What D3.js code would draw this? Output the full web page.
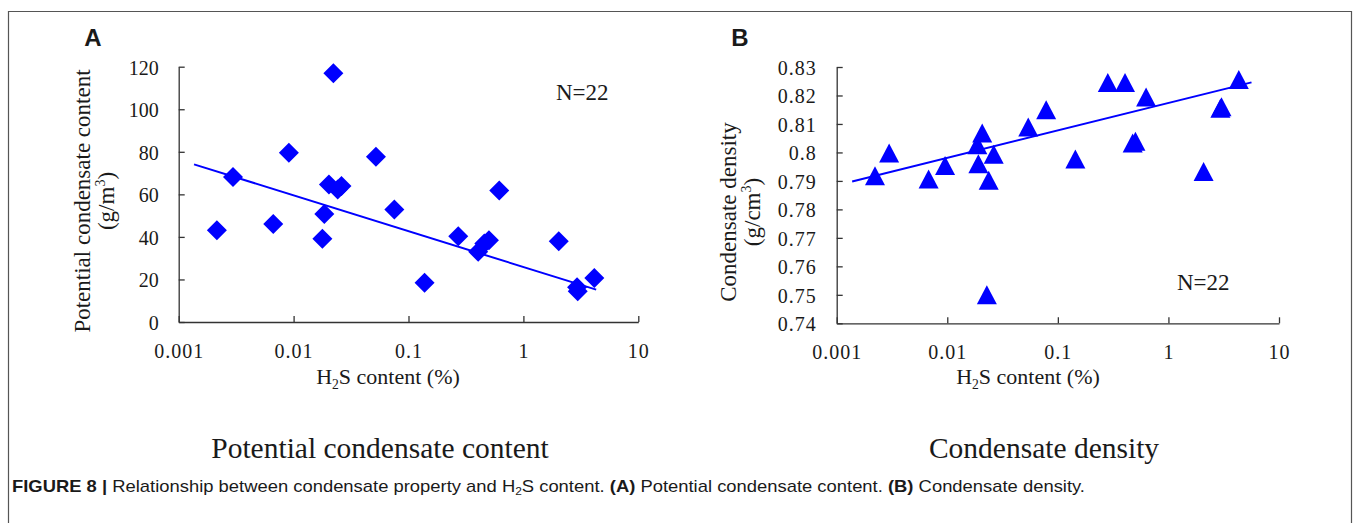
<html>
<head>
<meta charset="utf-8">
<script src="https://cdn.jsdelivr.net/npm/d3@7"></script>
<style>
  body { margin: 0; background: #fff; }
  svg text { font-family: "Liberation Serif", "Times New Roman", serif; fill: #1a1a1a; }
  .axis path, .axis line { stroke: #333; stroke-width: 1.3; }
  .axis text { font-family: "Liberation Serif", serif; font-size: 20px; fill: #1a1a1a; }
  .caption { font-family: "Liberation Sans", Arial, sans-serif; font-size: 17px; }
  .panel { font-family: "Liberation Sans", Arial, sans-serif; font-weight: bold; font-size: 24px; }
</style>
</head>
<body>
<script>
// H2S content (%)
var h2sA = [0.00215, 0.00297, 0.00665, 0.0091, 0.0178, 0.0185, 0.0203, 0.0222, 0.0242, 0.0261, 0.0521,
            0.0753, 0.138, 0.271, 0.404, 0.457, 0.501, 0.616, 2.03, 2.93, 2.97, 4.14];
var condensateContent = [43.1, 68.1, 46.1, 79.5, 39.1, 50.8, 64.6, 116.9, 62.3, 63.9, 77.7,
                         52.9, 18.4, 40.3, 33.0, 36.9, 38.4, 61.8, 38.0, 16.3, 14.4, 20.7];

var h2sB = [0.00222, 0.00298, 0.00678, 0.00955, 0.0187, 0.0191, 0.0207, 0.0228, 0.0237, 0.0263, 0.054,
            0.0784, 0.144, 0.283, 0.405, 0.475, 0.503, 0.628, 2.08, 2.95, 3.02, 4.33];
var condensateDensity = [0.7918, 0.7998, 0.7907, 0.7954, 0.8027, 0.7960, 0.8068, 0.7500, 0.7902, 0.7994, 0.8089,
                         0.8150, 0.7977, 0.8246, 0.8246, 0.8033, 0.8039, 0.8195, 0.7933, 0.8155, 0.8160, 0.8256];

// fitted trend lines, end points
var trendA = [[0.00136, 74.1], [4.3, 15.2]];
var trendB = [[0.00138, 0.7898], [5.64, 0.8246]];

var xTicks = [0.001, 0.01, 0.1, 1, 10];
var yTicksA = [0, 20, 40, 60, 80, 100, 120];
var yTicksB = [0.74, 0.75, 0.76, 0.77, 0.78, 0.79, 0.8, 0.81, 0.82, 0.83];

var W = 1354, H = 523;
var svg = d3.select("body").append("svg").attr("width", W).attr("height", H);

// figure frame
svg.append("path")
  .attr("d", "M8.5," + H + "V11.5H1351.5V" + H)
  .attr("fill", "none").attr("stroke", "#555").attr("stroke-width", 1.2);

function subH2S(sel, size) {
  sel.append("tspan").text("H");
  sel.append("tspan").attr("font-size", size * 0.62).attr("dy", size * 0.22).text("2");
  sel.append("tspan").attr("dy", -size * 0.22).text("S content (%)");
}

function drawPanel(o) {
  var x = d3.scaleLog().domain([0.001, 10]).range([o.x0, o.x1]);
  var y = d3.scaleLinear().domain(o.yDomain).range([o.y0, o.y1]);
  var g = svg.append("g");

  var xa = g.append("g").attr("class", "axis").attr("transform", "translate(0," + o.y0 + ")")
    .call(d3.axisBottom(x).tickValues(xTicks).tickSize(-6).tickSizeOuter(0)
      .tickFormat(function(d) { return String(d); }));
  xa.selectAll("text").attr("y", 36).attr("dy", 0).style("letter-spacing", "1px");

  var ya = g.append("g").attr("class", "axis").attr("transform", "translate(" + o.x0 + ",0)")
    .call(d3.axisLeft(y).tickValues(o.yTicks).tickSize(-6).tickSizeOuter(0).tickPadding(20)
      .tickFormat(function(d) { return String(d); }));
  ya.selectAll("text").attr("dy", "0.37em").style("letter-spacing", o.yLs);

  // trend line
  g.append("path")
    .datum(o.trend)
    .attr("fill", "none").attr("stroke", "#0000ff").attr("stroke-width", 2)
    .attr("d", d3.line().x(function(d) { return x(d[0]); }).y(function(d) { return y(d[1]); }));

  // markers
  g.selectAll(".pt").data(o.xs).enter().append("path")
    .attr("class", "pt")
    .attr("fill", "#0000ff")
    .attr("d", o.marker)
    .attr("transform", function(d, i) { return "translate(" + x(d) + "," + y(o.ys[i]) + ")"; });

  // axis titles
  var xt = g.append("text").attr("x", o.xTitleX).attr("y", 384).attr("text-anchor", "middle")
    .attr("font-size", 22);
  subH2S(xt, 22);

  var yt = g.append("text").attr("transform", "translate(" + o.yTitleX + "," + o.yTitleY + ") rotate(-90)")
    .attr("text-anchor", "middle").attr("font-size", 23);
  yt.append("tspan").attr("x", 0).attr("y", 0).text(o.yTitle1);
  var l2 = yt.append("tspan").attr("x", 0).attr("y", o.yTitleGap);
  l2.append("tspan").text(o.yUnit);
  l2.append("tspan").attr("font-size", 14).attr("dy", -9).text("3");
  l2.append("tspan").attr("dy", 9).text(")");

  g.append("text").attr("x", o.nX).attr("y", o.nY).attr("font-size", 23).text("N=22");

  g.append("text").attr("class", "panel").attr("x", o.labelX).attr("y", 46)
    .attr("text-anchor", "middle").text(o.label);

  g.append("text").attr("x", o.subX).attr("y", 458).attr("text-anchor", "middle")
    .attr("font-size", 29.5).text(o.sub);
}

var diamond = "M0,-10L10,0L0,10L-10,0Z";
var triangle = "M0,-9.5L10,9.5L-10,9.5Z";

drawPanel({
  x0: 178.7, x1: 638.3, y0: 322, y1: 66.7, yDomain: [0, 120], yTicks: yTicksA, yLs: "0px",
  xs: h2sA, ys: condensateContent, trend: trendA, marker: diamond,
  xTitleX: 388, yTitleX: 90, yTitleY: 201, yTitleGap: 24,
  yTitle1: "Potential condensate content", yUnit: "(g/m",
  nX: 556, nY: 100, label: "A", labelX: 93, subX: 380, sub: "Potential condensate content"
});

drawPanel({
  x0: 836.7, x1: 1279, y0: 323.3, y1: 67, yDomain: [0.74, 0.83], yTicks: yTicksB, yLs: "1px",
  xs: h2sB, ys: condensateDensity, trend: trendB, marker: triangle,
  xTitleX: 1028, yTitleX: 736, yTitleY: 212, yTitleGap: 24,
  yTitle1: "Condensate density", yUnit: "(g/cm",
  nX: 1177, nY: 290, label: "B", labelX: 740, subX: 1044, sub: "Condensate density"
});

// caption
var cap = svg.append("text").attr("class", "caption").attr("x", 12).attr("y", 492)
  .attr("textLength", 1073).attr("lengthAdjust", "spacingAndGlyphs");
cap.append("tspan").attr("font-weight", "bold").text("FIGURE 8 | ");
cap.append("tspan").text("Relationship between condensate property and H");
cap.append("tspan").attr("font-size", 11).attr("dy", 3).text("2");
cap.append("tspan").attr("dy", -3).text("S content. ");
cap.append("tspan").attr("font-weight", "bold").text("(A)");
cap.append("tspan").text(" Potential condensate content. ");
cap.append("tspan").attr("font-weight", "bold").text("(B)");
cap.append("tspan").text(" Condensate density.");
</script>
</body>
</html>
